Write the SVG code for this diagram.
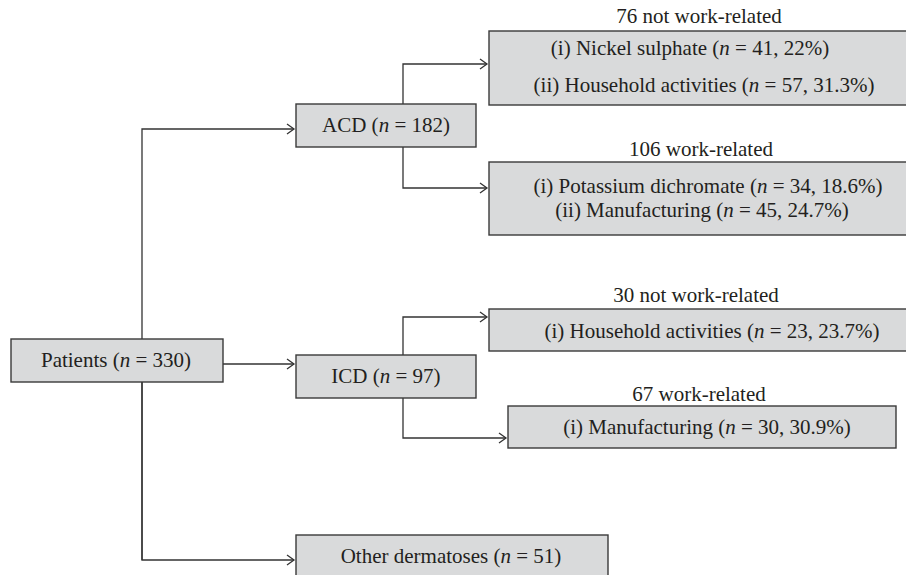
<svg xmlns="http://www.w3.org/2000/svg" width="906" height="575" viewBox="0 0 906 575">
<style>
.box{fill:#d9dadb;stroke:#3a3a3a;stroke-width:1.4}
.t{font-family:"Liberation Serif","Times New Roman",serif;font-size:21px;fill:#231f20;text-anchor:middle}
.i{font-style:italic}
.c{fill:none;stroke:#333;stroke-width:1.3}
</style>
<defs>
<marker id="ah" markerWidth="10" markerHeight="12" refX="8" refY="6" orient="auto" markerUnits="userSpaceOnUse">
<path d="M1,1 L8,6 L1,11" fill="none" stroke="#333" stroke-width="1.3"/>
</marker>
</defs>
<rect width="906" height="575" fill="#fff"/>
<g id="connectors">
<path class="c" d="M142,560 L142,129 L294,129" marker-end="url(#ah)"/>
<path class="c" d="M223,364 L294,364" marker-end="url(#ah)"/>
<path class="c" d="M142,382 L142,560 L294,560" marker-end="url(#ah)"/>
<path class="c" d="M403,104 L403,64 L487,64" marker-end="url(#ah)"/>
<path class="c" d="M403,147 L403,188 L487,188" marker-end="url(#ah)"/>
<path class="c" d="M403,355 L403,317 L487,317" marker-end="url(#ah)"/>
<path class="c" d="M403,398 L403,438 L506,438" marker-end="url(#ah)"/>
</g>
<g id="patients">
<rect class="box" x="11" y="339" width="212" height="43"/>
<text class="t" x="116" y="367">Patients (<tspan class="i">n</tspan> = 330)</text>
</g>
<g id="acd">
<rect class="box" x="296" y="104" width="180" height="43"/>
<text class="t" x="386" y="132">ACD (<tspan class="i">n</tspan> = 182)</text>
</g>
<g id="icd">
<rect class="box" x="296" y="355" width="180" height="43"/>
<text class="t" x="386" y="383">ICD (<tspan class="i">n</tspan> = 97)</text>
</g>
<g id="other">
<rect class="box" x="296" y="535" width="312" height="50"/>
<text class="t" x="451" y="563">Other dermatoses (<tspan class="i">n</tspan> = 51)</text>
</g>
<g id="acd-not-work">
<text class="t" x="699" y="23">76 not work-related</text>
<rect class="box" x="489" y="31" width="425" height="74"/>
<text class="t" x="690" y="55">(i) Nickel sulphate (<tspan class="i">n</tspan> = 41, 22%)</text>
<text class="t" x="704" y="92">(ii) Household activities (<tspan class="i">n</tspan> = 57, 31.3%)</text>
</g>
<g id="acd-work">
<text class="t" x="701" y="156">106 work-related</text>
<rect class="box" x="489" y="162" width="425" height="73"/>
<text class="t" x="708" y="193">(i) Potassium dichromate (<tspan class="i">n</tspan> = 34, 18.6%)</text>
<text class="t" x="702" y="217">(ii) Manufacturing (<tspan class="i">n</tspan> = 45, 24.7%)</text>
</g>
<g id="icd-not-work">
<text class="t" x="696" y="302">30 not work-related</text>
<rect class="box" x="489" y="309" width="425" height="42"/>
<text class="t" x="712" y="338">(i) Household activities (<tspan class="i">n</tspan> = 23, 23.7%)</text>
</g>
<g id="icd-work">
<text class="t" x="699" y="401">67 work-related</text>
<rect class="box" x="508" y="406" width="388" height="42"/>
<text class="t" x="707" y="434">(i) Manufacturing (<tspan class="i">n</tspan> = 30, 30.9%)</text>
</g>
</svg>
